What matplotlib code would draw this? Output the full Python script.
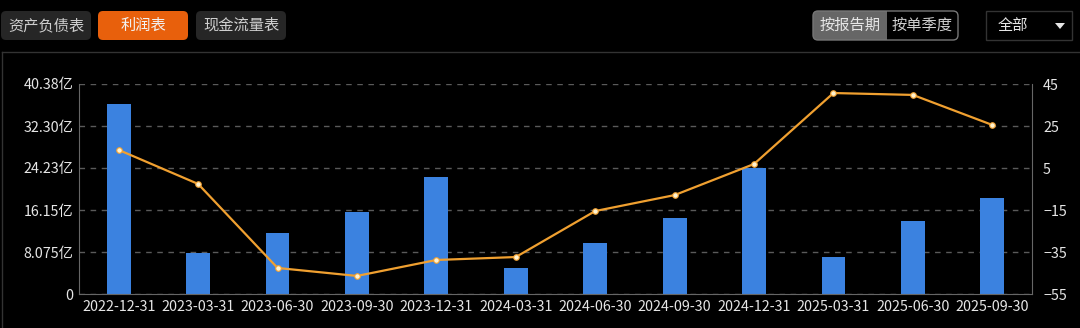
import matplotlib
matplotlib.use("Agg")
import matplotlib.pyplot as plt
from matplotlib.patches import FancyBboxPatch, Rectangle, Polygon

plt.rcParams['font.family'] = ['Noto Sans CJK SC', 'DejaVu Sans']

# data
periods = ['2022-12-31', '2023-03-31', '2023-06-30', '2023-09-30',
           '2023-12-31', '2024-03-31', '2024-06-30', '2024-09-30',
           '2024-12-31', '2025-03-31', '2025-06-30', '2025-09-30']
revenue = [36.5, 7.9, 11.7, 15.8, 22.5, 5.0, 9.8, 14.6, 24.2, 7.1, 14.0, 18.5]   # 亿
growth = [13.6, -2.6, -42.6, -46.4, -38.8, -37.4, -15.5, -7.9, 6.9, 40.7, 39.8, 25.5]  # %
left_ticks = [0, 8.075, 16.15, 24.23, 32.30, 40.38]
left_labels = ['0', '8.075亿', '16.15亿', '24.23亿', '32.30亿', '40.38亿']
right_ticks = [-55, -35, -15, 5, 25, 45]
tabs = ['资产负债表', '利润表', '现金流量表']

W, H = 1080, 328
fig = plt.figure(figsize=(W / 100, H / 100), dpi=100, facecolor='black')

# --- header / frame drawn in pixel coords ---
ui = fig.add_axes([0, 0, 1, 1])
ui.set_xlim(0, W)
ui.set_ylim(H, 0)
ui.axis('off')
ui.set_zorder(0)

ui.plot([2, W], [52, 52], color='#333333', lw=1)
ui.plot([2, 2], [52, H], color='#333333', lw=1)

tab_x = [1, 98, 196]
for i, (x, name) in enumerate(zip(tab_x, tabs)):
    active = i == 1
    ui.add_patch(FancyBboxPatch((x, 11), 90, 29, boxstyle='round,pad=0,rounding_size=5',
                                fc='#e8600c' if active else '#262626', ec='none'))
    ui.text(x + 45, 25.5, name, ha='center', va='center', fontsize=11,
            color='#f2f2f2' if active else '#cfcfcf')

# period switch
ui.add_patch(FancyBboxPatch((813, 11), 74, 29, boxstyle='round,pad=0,rounding_size=5',
                            fc='#666666', ec='none'))
ui.add_patch(Rectangle((878, 11), 9, 29, fc='#666666', ec='none'))
ui.add_patch(FancyBboxPatch((813, 11), 145, 29, boxstyle='round,pad=0,rounding_size=5',
                            fc='none', ec='#777777', lw=1))
ui.text(850, 25.5, '按报告期', ha='center', va='center', fontsize=11, color='#e6e6e6')
ui.text(922, 25.5, '按单季度', ha='center', va='center', fontsize=11, color='#cfcfcf')

# dropdown
ui.add_patch(Rectangle((986, 11), 86, 29, fc='black', ec='#333333', lw=1))
ui.text(998, 25.5, '全部', ha='left', va='center', fontsize=11, color='#e6e6e6')
ui.add_patch(Polygon([[1055, 23], [1065, 23], [1060, 29]], closed=True, fc='#e6e6e6', ec='none'))

# --- chart ---
ax = fig.add_axes([79 / W, 1 - 294 / H, (1032 - 79) / W, (294 - 84) / H])
ax.set_zorder(1)
ax.set_facecolor('none')
x = list(range(len(periods)))
ax.bar(x, revenue, width=0.3, color='#3b82e0', zorder=2)
ax.set_xlim(-0.5, len(periods) - 0.5)
ax.set_ylim(0, 40.38)
ax.set_yticks(left_ticks)
ax.set_yticklabels(left_labels)
ax.set_xticks(x)
ax.set_xticklabels(periods)
ax.grid(axis='y', color='#5a5a5a', linestyle=(0, (4, 4)), lw=1, zorder=0)
ax.tick_params(length=0, colors='#e6e6e6', labelsize=10.3, pad=4)
for side in ['top', 'right']:
    ax.spines[side].set_visible(False)
for side in ['left', 'bottom']:
    ax.spines[side].set_color('#666666')

ax2 = ax.twinx()
ax2.plot(x, growth, color='#f0a030', lw=1.6, marker='o', markersize=4,
         markerfacecolor='#fff2d0', markeredgecolor='#f0a030', markeredgewidth=0.8, zorder=3)
ax2.set_ylim(-55, 45)
ax2.set_yticks(right_ticks)
ax2.tick_params(length=0, colors='#e6e6e6', labelsize=10.3, pad=8)
for side in ['top', 'left', 'bottom']:
    ax2.spines[side].set_visible(False)
ax2.spines['right'].set_color('#666666')

fig.savefig('out.png', dpi=100, facecolor='black')
